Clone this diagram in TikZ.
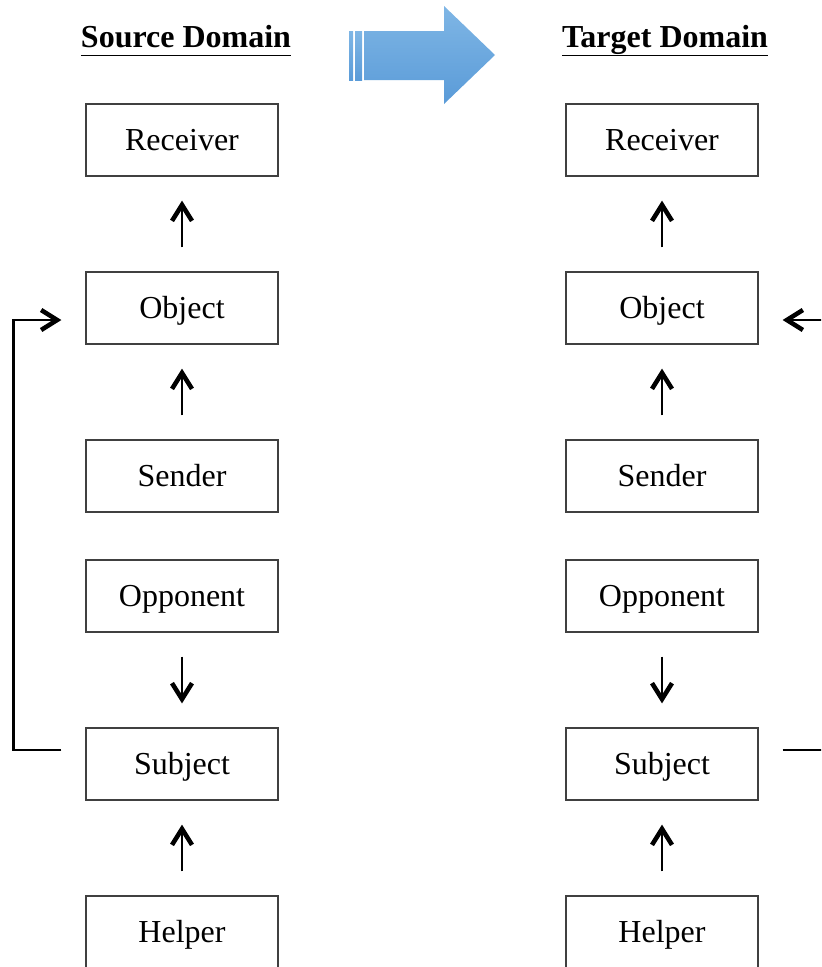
\documentclass[tikz,border=0pt]{standalone}
\usepackage{fontspec}
\setmainfont{Liberation Serif}
\usetikzlibrary{arrows.meta,calc}
\definecolor{boxgray}{HTML}{404040}
\definecolor{arrowtop}{HTML}{7FB6E5}
\definecolor{arrowbot}{HTML}{5A9BD8}
\begin{document}
\begin{tikzpicture}[x=0.75pt,y=-0.75pt,
  box/.style={draw=boxgray, line width=0.9pt, minimum width=144pt, minimum height=54pt, inner sep=0pt, text height=18pt, text depth=2pt, font=\fontsize{24}{28}\selectfont},
  title/.style={font=\fontsize{24}{28}\selectfont\bfseries, inner sep=0pt, anchor=base},
  chevron/.style={-{Straight Barb[length=12pt,width=15pt,line width=3.4pt]}},
  link/.style={chevron, line width=1.9pt, shorten <=18pt, shorten >=18pt},
  loopline/.style={chevron, line width=1.7pt},
  bigarrow/.style={top color=arrowtop, bottom color=arrowbot, draw=none}]
\useasboundingbox (0,0) rectangle (821,967);
\clip (0,0) rectangle (821,967);
% titles
\node[title] (st) at (186,47) {\underline{\smash{Source Domain}\vphantom{Sp}}};
\node[title] (tt) at (665,47) {\underline{\smash{Target Domain}\vphantom{Sp}}};
% big arrow
\shade[bigarrow] (364,31) -- (444,31) -- (444,6) -- (495,55) -- (444,104) -- (444,80) -- (364,80) -- cycle;
\shade[bigarrow] (349,31) rectangle (353,80);
\shade[bigarrow] (355,31) rectangle (362,80);
% source column
\node[box] (sr) at (182,140) {Receiver};
\node[box] (so) at (182,308) {Object};
\node[box] (sse) at (182,476) {Sender};
\node[box] (sop) at (182,596) {Opponent};
\node[box] (ss) at (182,764) {Subject};
\node[box] (sh) at (182,932) {Helper};
% target column
\node[box] (tr) at (662,140) {Receiver};
\node[box] (to) at (662,308) {Object};
\node[box] (tse) at (662,476) {Sender};
\node[box] (top) at (662,596) {Opponent};
\node[box] (ts) at (662,764) {Subject};
\node[box] (th) at (662,932) {Helper};
% vertical links
\foreach \c in {s,t}{
  \draw[link] (\c o.north) -- (\c r.south);
  \draw[link] (\c se.north) -- (\c o.south);
  \draw[link] (\c op.south) -- (\c s.north);
  \draw[link] (\c h.north) -- (\c s.south);
}
% feedback loops
\draw[loopline] ([shift={(-24,-14)}]ss.west) -- ++(-48,0) |- ([shift={(-24,12)}]so.west);
\draw[loopline] ([shift={(24,-14)}]ts.east) -- ++(60,0) |- ([shift={(24,12)}]to.east);
\end{tikzpicture}
\end{document}
